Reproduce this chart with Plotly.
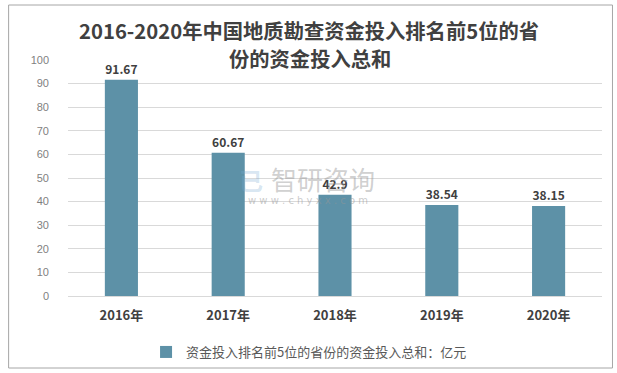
import plotly.graph_objects as go

categories = ["2016年", "2017年", "2018年", "2019年", "2020年"]
values = [91.67, 60.67, 42.9, 38.54, 38.15]
value_labels = ["91.67", "60.67", "42.9", "38.54", "38.15"]
series_name = "资金投入排名前5位的省份的资金投入总和：亿元"
title_line1 = "2016-2020年中国地质勘查资金投入排名前5位的省"
title_line2 = "份的资金投入总和"

FONT = "Noto Sans CJK SC"
BAR = "#5d91a7"

# plot area in pixels
L, R, T, B = 67.5, 602.5, 60, 296
W, H = R - L, B - T


def px(x):
    return (x - L) / W


def py(y):
    return (B - y) / H


fig = go.Figure()
fig.add_trace(go.Bar(
    x=categories, y=values, name=series_name,
    marker=dict(color=BAR, line=dict(width=0)),
    text=value_labels, textposition="outside", cliponaxis=False,
    textfont=dict(family=FONT, size=12, color="#404040", weight="bold"),
    showlegend=True,
))

fig.update_layout(
    width=617, height=373,
    margin=dict(l=L, r=617 - R, t=T, b=373 - B, autoexpand=False),
    paper_bgcolor="white", plot_bgcolor="white",
    bargap=0.69,
    font=dict(family=FONT),
    showlegend=True,
    legend=dict(orientation="h", x=px(309), y=py(352), xanchor="center", yanchor="middle",
                font=dict(family=FONT, size=13, color="#595959"), itemwidth=30,
                bgcolor="rgba(0,0,0,0)"),
    xaxis=dict(showgrid=False, showline=False, ticks="", zeroline=False,
               tickfont=dict(family=FONT, size=13, color="#404040", weight="bold"),
               ticklabelstandoff=10),
    yaxis=dict(range=[0, 100], dtick=10, showgrid=True, gridcolor="#d9d9d9", gridwidth=1,
               zeroline=True, zerolinecolor="#d9d9d9", zerolinewidth=1,
               showline=False, ticks="",
               tickfont=dict(family="Liberation Sans", size=11, color="#7f7f7f"),
               ticklabelstandoff=18),
    shapes=[dict(type="rect", xref="paper", yref="paper",
                 x0=px(8), x1=px(613), y0=py(368), y1=py(5),
                 line=dict(color="#a6a6a6", width=1), fillcolor="rgba(0,0,0,0)", layer="below")],
    annotations=[
        dict(text=title_line1, x=px(308.5), y=py(30), xref="paper", yref="paper",
             xanchor="center", yanchor="middle", showarrow=False,
             font=dict(family=FONT, size=20.3, color="#404040", weight="bold")),
        dict(text=title_line2, x=px(309.5), y=py(58), xref="paper", yref="paper",
             xanchor="center", yanchor="middle", showarrow=False, bgcolor="white", borderpad=0,
             font=dict(family=FONT, size=20.3, color="#404040", weight="bold")),
        dict(text="智研咨询", x=px(323), y=py(178), xref="paper", yref="paper",
             xanchor="center", yanchor="middle", showarrow=False,
             font=dict(family=FONT, size=26, color="rgba(150,150,150,0.45)")),
        dict(text="w w w . c h y x x . c o m", x=px(308), y=py(200), xref="paper", yref="paper",
             xanchor="center", yanchor="middle", showarrow=False,
             font=dict(family="DejaVu Sans", size=10, color="rgba(150,150,150,0.5)")),
        dict(text="<b>已</b>", x=px(251), y=py(179), xref="paper", yref="paper",
             xanchor="center", yanchor="middle", showarrow=False,
             font=dict(family=FONT, size=24, color="rgba(120,170,210,0.3)")),
    ],
)

fig.write_html("out.html", config={"displayModeBar": False},
               post_script="document.body.style.margin='0px';document.body.style.padding='0px';")
